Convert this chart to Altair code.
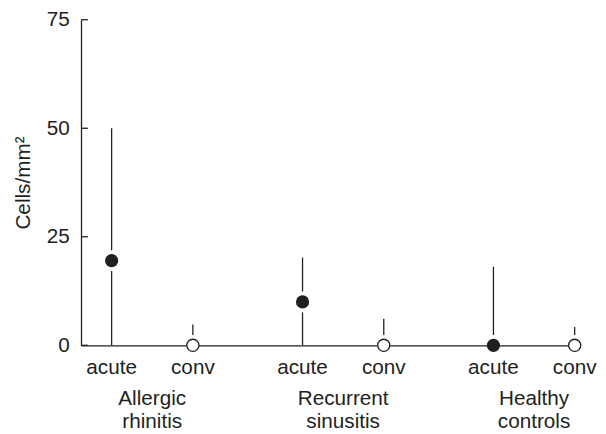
import altair as alt
import pandas as pd

# ---- data ----
groups = ["Allergic\nrhinitis", "Recurrent\nsinusitis", "Healthy\ncontrols"]
phases = ["acute", "conv"]
medians = [[19.5, 0.0], [10.0, 0.0], [0.0, 0.0]]
upper = [[50.0, 4.8], [20.2, 6.1], [18.1, 4.2]]
lower = [[0.0, 0.0], [0.0, 0.0], [0.0, 0.0]]
y_ticks = [0, 25, 50, 75]

# ---- layout constants ----
GROUP_STEP = 2.35
PHASE_STEP = 1.0
GAP = 2.4          # white gap around the dot, in data units
INK = "#231f20"
FONT = "Liberation Sans"
FS = 21

rows = []
for gi, g in enumerate(groups):
    for pi, p in enumerate(phases):
        rows.append({
            "group": g,
            "phase": p,
            "pos": gi * GROUP_STEP + pi * PHASE_STEP,
            "median": medians[gi][pi],
            "lo": lower[gi][pi],
            "hi": upper[gi][pi],
        })
df = pd.DataFrame(rows)
grp_df = pd.DataFrame({
    "group": groups,
    "pos": [gi * GROUP_STEP + PHASE_STEP / 2 for gi in range(len(groups))],
})
tick_df = pd.DataFrame({"tick": y_ticks})

xscale = alt.Scale(domain=[-0.377, 5.72], nice=False, zero=False)
yscale = alt.Scale(domain=[0, 75], nice=False, zero=True)

base = alt.Chart(df)

x_enc = alt.X("pos:Q", scale=xscale,
              axis=alt.Axis(labels=False, ticks=False, tickSize=0, grid=False, title=None,
                            domainColor=INK, domainWidth=1.3))

upper_seg = base.transform_calculate(
    a="datum.median + %f" % GAP
).transform_filter("datum.hi > datum.a").mark_rule(color=INK, strokeWidth=1.3).encode(
    x=x_enc,
    y=alt.Y("a:Q", scale=yscale,
            axis=alt.Axis(values=y_ticks, ticks=False, tickSize=0, grid=False,
                          labelPadding=12, labelFontSize=FS, labelFont=FONT, labelColor=INK,
                          domainColor=INK, domainWidth=1.3,
                          title="Cells/mm²", titleFontSize=FS, titleFont=FONT,
                          titleFontWeight="normal", titleColor=INK, titlePadding=13)),
    y2="hi:Q",
)

lower_seg = base.transform_calculate(
    b="datum.median - %f" % GAP
).transform_filter("datum.b > datum.lo").mark_rule(color=INK, strokeWidth=1.3).encode(
    x="pos:Q",
    y="lo:Q",
    y2="b:Q",
)

acute_dots = base.transform_filter("datum.phase == 'acute'").mark_circle(
    color=INK, size=180, opacity=1
).encode(x="pos:Q", y="median:Q")

conv_dots = base.transform_filter("datum.phase == 'conv'").mark_point(
    shape="circle", filled=True, fill="white", stroke=INK, strokeWidth=1.3, size=150, opacity=1
).encode(x="pos:Q", y="median:Q")

yticks = alt.Chart(tick_df).mark_rule(color=INK, strokeWidth=1.3).encode(
    y="tick:Q", x=alt.value(0), x2=alt.value(7)
)

phase_labels = base.mark_text(
    font=FONT, fontSize=FS, color=INK, align="center", baseline="alphabetic"
).encode(x="pos:Q", y=alt.value(359), text="phase:N")

group_labels = alt.Chart(grp_df).mark_text(
    font=FONT, fontSize=FS, color=INK, align="center", baseline="alphabetic",
    lineBreak="\n", lineHeight=24
).encode(x="pos:Q", y=alt.value(390), text="group:N")

chart = alt.layer(
    upper_seg, lower_seg, yticks, acute_dots, conv_dots, phase_labels, group_labels
).properties(
    width=502, height=330,
    autosize=alt.AutoSizeParams(type="none"),
    padding={"left": 74, "top": 9, "right": 22, "bottom": 86},
).configure_view(stroke=None)

chart.save("out.html", embed_options={"renderer": "svg", "actions": False})
